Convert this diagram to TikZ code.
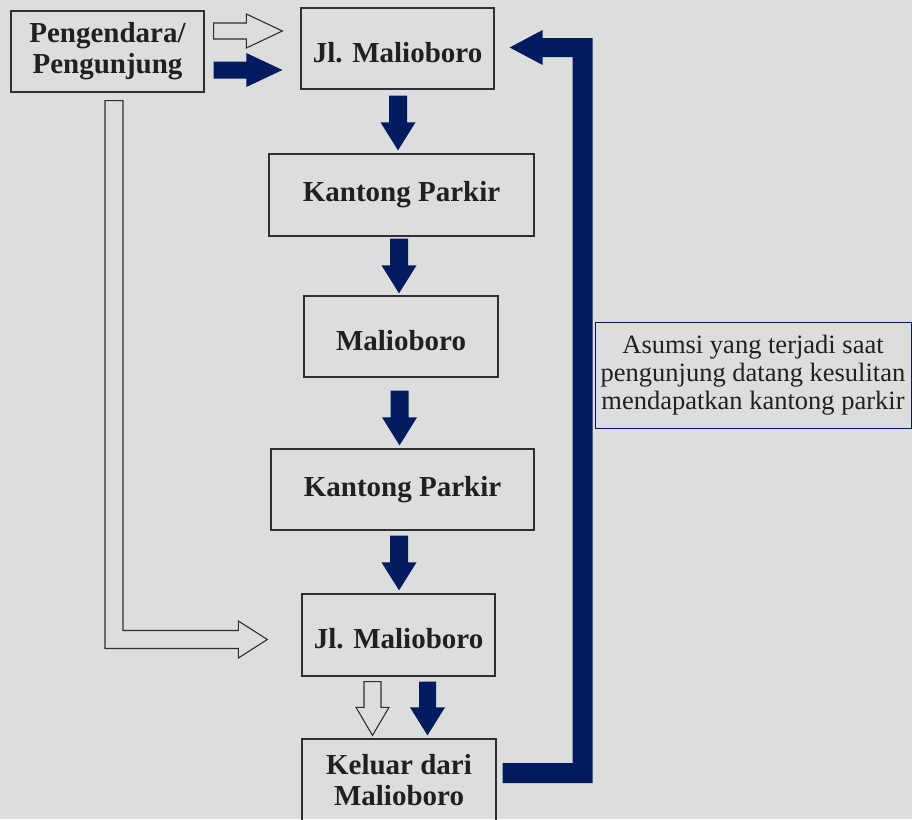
\documentclass[tikz,border=0pt]{standalone}
\usepackage{fontspec}
\setmainfont{Liberation Serif}
\usetikzlibrary{calc}
\definecolor{bg}{RGB}{220,221,221}
\definecolor{navy}{RGB}{0,27,96}
\definecolor{ink}{RGB}{35,31,32}
\definecolor{edge}{RGB}{50,45,46}
\tikzset{
  box/.style={draw=edge, line width=1.3pt, text=ink, align=center, inner sep=0pt,
    font=\bfseries\fontsize{29}{31}\selectfont},
  flat/.style={text height=27pt, text depth=0pt},
  note/.style={draw=navy, line width=1pt, text=ink, align=center, inner sep=0pt,
    font=\fontsize{26.5}{28}\selectfont},
  solidfill/.style={fill=navy},
  hollowline/.style={draw=edge, line width=1.1pt, fill=bg, line join=miter},
  bdown/.style n args={3}{to path={let \p1=(\tikztostart), \p2=(\tikztotarget) in
    (\x1-#1,\y1) -- (\x1-#1,\y2+#3) -- (\x1-#2,\y2+#3) -- (\x1,\y2) --
    (\x1+#2,\y2+#3) -- (\x1+#1,\y2+#3) -- (\x1+#1,\y1) -- cycle}},
  bright/.style n args={3}{to path={let \p1=(\tikztostart), \p2=(\tikztotarget) in
    (\x1,\y1+#1) -- (\x2-#3,\y1+#1) -- (\x2-#3,\y1+#2) -- (\x2,\y1) --
    (\x2-#3,\y1-#2) -- (\x2-#3,\y1-#1) -- (\x1,\y1-#1) -- cycle}},
  bL/.style={to path={let \p1=(\tikztostart), \p2=(\tikztotarget) in
    (\x1-9pt,\y1) -- (\x1-9pt,\y2-9pt) -- (\x2-29pt,\y2-9pt) -- (\x2-29pt,\y2-18.5pt) --
    (\x2,\y2) -- (\x2-29pt,\y2+18.5pt) -- (\x2-29pt,\y2+9pt) -- (\x1+9pt,\y2+9pt) --
    (\x1+9pt,\y1) -- cycle}},
  bret/.style={to path={let \p1=(\tikztostart), \p2=(\tikztotarget) in
    (\x1,\y1-10pt) -- (\x1+90pt,\y1-10pt) -- (\x1+90pt,\y2+9.5pt) -- (\x2+33pt,\y2+9.5pt) --
    (\x2+33pt,\y2+17.5pt) -- (\x2,\y2) -- (\x2+33pt,\y2-17.5pt) -- (\x2+33pt,\y2-9.5pt) --
    (\x1+70pt,\y2-9.5pt) -- (\x1+70pt,\y1+10pt) -- (\x1,\y1+10pt) -- cycle}}
}
\begin{document}
\begin{tikzpicture}[x=1pt,y=-1pt]
  \useasboundingbox (0,0) rectangle (912,819);
  \clip (0,0) rectangle (912,819);
  \fill[bg] (0,0) rectangle (912,819);

  % boxes
  \node[box, minimum width=193pt, minimum height=81pt] (pen) at (107.5,51.5) {Pengendara/\\Pengunjung};
  \node[box, flat, minimum width=193pt, minimum height=81pt] (jl1) at (397.5,48.5) {Jl. Malioboro};
  \node[box, minimum width=265pt, minimum height=82pt] (kp1) at (401.5,195) {Kantong Parkir};
  \node[box, flat, minimum width=194pt, minimum height=81pt] (mal) at (401,336.5) {Malioboro};
  \node[box, minimum width=263pt, minimum height=81pt] (kp2) at (402.5,489.5) {Kantong Parkir};
  \node[box, flat, minimum width=193pt, minimum height=82pt] (jl2) at (398.5,635) {Jl. Malioboro};
  \node[box, minimum width=194pt, minimum height=82pt] (kel) at (399,780) {Keluar dari\\Malioboro};
  \node[note, minimum width=316pt, minimum height=106pt] (note) at (753,375)
    {Asumsi yang terjadi saat\\pengunjung datang kesulitan\\mendapatkan kantong parkir};

  % arrows from Pengendara to Jl. Malioboro
  \path[hollowline, bright={8pt}{17pt}{36pt}] ($(pen.east)+(9,-20.5)$) to ($(jl1.west)+(-18,-17.5)$);
  \path[solidfill, bright={8.5pt}{17pt}{36pt}] ($(pen.east)+(9,18.5)$) to ($(jl1.west)+(-18,21.5)$);

  % main vertical flow
  \path[solidfill, bdown={9pt}{17.5pt}{28pt}] ($(jl1.south)+(0.5,6)$) to ($(kp1.north)+(0,-3)$);
  \path[solidfill, bdown={9pt}{17.5pt}{28pt}] ($(kp1.south)+(-2.5,2)$) to ($(mal.north)+(0,-2)$);
  \path[solidfill, bdown={9pt}{17.5pt}{28pt}] ($(mal.south)+(-1.5,13)$) to ($(kp2.north)+(0,-3)$);
  \path[solidfill, bdown={9pt}{17.5pt}{28pt}] ($(kp2.south)+(-3.5,5)$) to ($(jl2.north)+(0,-3)$);

  % direct route
  \path[hollowline, bL] ($(pen.south)+(6.5,8)$) to ($(jl2.west)+(-34,4.5)$);

  % to exit
  \path[hollowline, bdown={8.5pt}{16.5pt}{28pt}] ($(jl2.south)+(-26,5)$) to ($(kel.north)+(0,-3)$);
  \path[solidfill, bdown={8.5pt}{17.5pt}{28pt}] ($(jl2.south)+(29,5)$) to ($(kel.north)+(0,-3)$);

  % return loop
  \path[solidfill, bret] ($(kel.east)+(6,-7)$) to ($(jl1.east)+(15,-1)$);
\end{tikzpicture}
\end{document}
